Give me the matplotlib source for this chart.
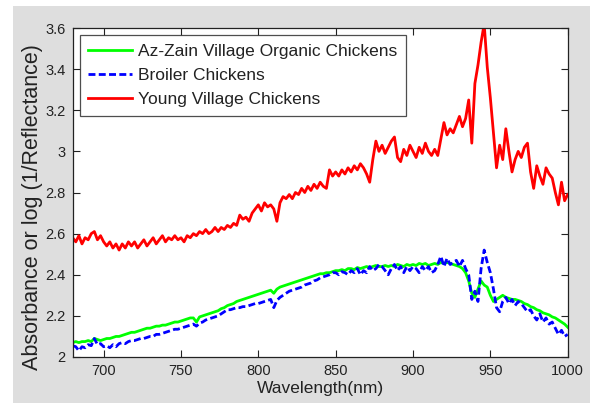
import numpy as np
import matplotlib
matplotlib.use('Agg')
import matplotlib.pyplot as plt
from matplotlib.patches import Rectangle

plt.rcParams['font.family'] = ['Liberation Sans', 'DejaVu Sans']

# wavelength grid (nm), one value every 2 nm
wavelength = np.arange(680, 1001, 2)

# Az-Zain Village Organic Chickens
organic = [
    2.070, 2.075, 2.070, 2.075, 2.075, 2.080, 2.075, 2.090, 2.085, 2.080,
    2.085, 2.090, 2.090, 2.095, 2.100, 2.100, 2.105, 2.110, 2.115, 2.120,
    2.120, 2.125, 2.130, 2.135, 2.140, 2.140, 2.145, 2.150, 2.150, 2.155,
    2.155, 2.160, 2.165, 2.170, 2.170, 2.175, 2.180, 2.185, 2.190, 2.190,
    2.170, 2.195, 2.200, 2.205, 2.210, 2.215, 2.220, 2.225, 2.235, 2.240,
    2.250, 2.255, 2.260, 2.270, 2.275, 2.280, 2.285, 2.290, 2.295, 2.300,
    2.305, 2.310, 2.315, 2.320, 2.325, 2.310, 2.330, 2.340, 2.345, 2.350,
    2.355, 2.360, 2.365, 2.370, 2.375, 2.380, 2.385, 2.390, 2.395, 2.400,
    2.405, 2.405, 2.410, 2.410, 2.415, 2.420, 2.420, 2.425, 2.420, 2.430,
    2.430, 2.425, 2.435, 2.430, 2.435, 2.440, 2.435, 2.440, 2.445, 2.440,
    2.440, 2.445, 2.440, 2.445, 2.440, 2.450, 2.445, 2.440, 2.450, 2.445,
    2.450, 2.445, 2.455, 2.450, 2.455, 2.445, 2.450, 2.455, 2.450, 2.460,
    2.455, 2.460, 2.455, 2.450, 2.445, 2.440, 2.430, 2.410, 2.370, 2.310,
    2.290, 2.330, 2.370, 2.350, 2.340, 2.300, 2.270, 2.280, 2.290, 2.300,
    2.290, 2.285, 2.280, 2.280, 2.275, 2.270, 2.260, 2.255, 2.245, 2.240,
    2.230, 2.225, 2.215, 2.210, 2.205, 2.195, 2.190, 2.180, 2.170, 2.160,
    2.145,
]

# Broiler Chickens
broiler = [
    2.055, 2.050, 2.030, 2.050, 2.045, 2.060, 2.055, 2.090, 2.060, 2.065,
    2.050, 2.055, 2.045, 2.060, 2.050, 2.065, 2.070, 2.065, 2.075, 2.080,
    2.080, 2.085, 2.090, 2.090, 2.095, 2.100, 2.100, 2.110, 2.110, 2.115,
    2.120, 2.125, 2.130, 2.135, 2.135, 2.140, 2.145, 2.150, 2.155, 2.160,
    2.150, 2.165, 2.170, 2.180, 2.185, 2.190, 2.195, 2.200, 2.210, 2.220,
    2.230, 2.230, 2.235, 2.240, 2.240, 2.245, 2.245, 2.250, 2.255, 2.260,
    2.260, 2.265, 2.270, 2.275, 2.280, 2.240, 2.275, 2.290, 2.300, 2.310,
    2.320, 2.325, 2.330, 2.335, 2.340, 2.350, 2.355, 2.360, 2.370, 2.375,
    2.385, 2.390, 2.395, 2.400, 2.410, 2.410, 2.400, 2.415, 2.410, 2.400,
    2.420, 2.410, 2.430, 2.400, 2.420, 2.410, 2.440, 2.420, 2.430, 2.450,
    2.440, 2.420, 2.400, 2.430, 2.450, 2.420, 2.440, 2.410, 2.440, 2.420,
    2.440, 2.430, 2.410, 2.440, 2.420, 2.440, 2.410, 2.420, 2.450, 2.490,
    2.440, 2.480, 2.450, 2.460, 2.470, 2.440, 2.470, 2.430, 2.400, 2.280,
    2.320, 2.270, 2.430, 2.520, 2.460, 2.410, 2.330, 2.240, 2.220, 2.270,
    2.290, 2.260, 2.280, 2.250, 2.270, 2.260, 2.240, 2.220, 2.230, 2.200,
    2.180, 2.210, 2.170, 2.190, 2.160, 2.170, 2.140, 2.110, 2.130, 2.100,
    2.110,
]

# Young Village Chickens
young = [
    2.58, 2.56, 2.59, 2.55, 2.58, 2.57, 2.60, 2.61, 2.57, 2.59,
    2.56, 2.54, 2.56, 2.53, 2.55, 2.52, 2.55, 2.53, 2.56, 2.54,
    2.56, 2.53, 2.55, 2.57, 2.54, 2.56, 2.58, 2.55, 2.57, 2.59,
    2.56, 2.58, 2.57, 2.59, 2.57, 2.58, 2.56, 2.59, 2.58, 2.60,
    2.59, 2.61, 2.60, 2.62, 2.60, 2.61, 2.63, 2.61, 2.63, 2.62,
    2.64, 2.63, 2.65, 2.64, 2.69, 2.67, 2.68, 2.66, 2.70, 2.72,
    2.74, 2.71, 2.75, 2.73, 2.74, 2.72, 2.66, 2.75, 2.78, 2.77,
    2.79, 2.77, 2.80, 2.79, 2.82, 2.80, 2.83, 2.81, 2.84, 2.82,
    2.85, 2.83, 2.82, 2.91, 2.88, 2.90, 2.88, 2.91, 2.89, 2.92,
    2.90, 2.93, 2.91, 2.94, 2.92, 2.89, 2.85, 2.96, 3.05, 3.00,
    3.03, 2.99, 3.02, 3.05, 3.07, 2.97, 2.95, 3.01, 2.98, 3.03,
    3.00, 2.97, 3.02, 2.99, 3.04, 3.00, 2.98, 3.01, 2.98, 3.06,
    3.14, 3.08, 3.11, 3.09, 3.13, 3.17, 3.12, 3.16, 3.25, 3.04,
    3.33, 3.42, 3.53, 3.62, 3.41, 3.26, 3.09, 2.92, 3.03, 2.96,
    3.11, 3.00, 2.90, 2.96, 3.00, 2.97, 3.02, 3.04, 2.90, 2.82,
    2.93, 2.88, 2.84, 2.92, 2.89, 2.87, 2.80, 2.74, 2.85, 2.76,
    2.79,
]

labels = ['Az-Zain Village Organic Chickens', 'Broiler Chickens', 'Young Village Chickens']

fig = plt.figure(figsize=(5.9, 4.03), dpi=100)
fig.patch.set_facecolor('white')
# grey matlab-like backdrop
fig.patches.append(Rectangle((13 / 590, 0), 577 / 590, 397 / 403,
                             transform=fig.transFigure, facecolor='#dedede',
                             edgecolor='none', zorder=-1))

ax = fig.add_axes([72.7 / 590, 46 / 403, 495 / 590, 329 / 403])
ax.plot(wavelength, organic, color='#00ff00', lw=2.0, label=labels[0])
ax.plot(wavelength, broiler, color='#0000ff', lw=2.0, ls='--', dashes=(2.5, 1.2), label=labels[1])
ax.plot(wavelength, young, color='#ff0000', lw=2.0, label=labels[2])

ax.set_xlim(680, 1000)
ax.set_ylim(2, 3.6)
ax.set_xticks([700, 750, 800, 850, 900, 950, 1000])
ax.set_yticks([2, 2.2, 2.4, 2.6, 2.8, 3, 3.2, 3.4, 3.6])
ax.set_yticklabels(['2', '2.2', '2.4', '2.6', '2.8', '3', '3.2', '3.4', '3.6'])
ax.tick_params(direction='in', top=True, right=True, length=5, labelsize=10.5,
               colors='#222222', pad=5)
for s in ax.spines.values():
    s.set_color('#222222')
    s.set_linewidth(0.9)

ax.set_xlabel('Wavelength(nm)', fontsize=12.5, color='#222222', labelpad=2)
ax.set_ylabel('Absorbance or log (1/Reflectance)', fontsize=15.5, color='#222222')
ax.yaxis.set_label_coords(-0.06, 0.455)

leg = ax.legend(loc='upper left', fontsize=12.5, frameon=True, fancybox=False,
                edgecolor='#222222', handlelength=2.5, borderaxespad=0.4,
                borderpad=0.5, labelspacing=0.52, handletextpad=0.35)
leg.get_frame().set_linewidth(0.9)
for t in leg.get_texts():
    t.set_color('#222222')

fig.savefig('out.png', dpi=100)
